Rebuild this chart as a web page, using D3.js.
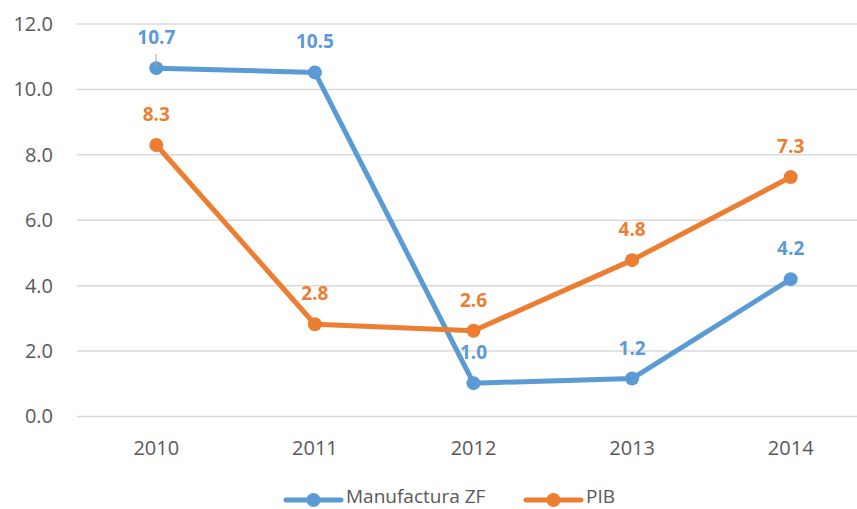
<!DOCTYPE html>
<html>
<head>
<meta charset="utf-8">
<script src="https://cdn.jsdelivr.net/npm/d3@7"></script>
<style>
  body { margin: 0; background: #fff; }
  text { font-family: "Open Sans", "Noto Sans", sans-serif; }
</style>
</head>
<body>
<div class="canvas"></div>
<script>
const years = ["2010", "2011", "2012", "2013", "2014"]
const manufactura = [10.65, 10.52, 1.02, 1.16, 4.2]
const pib = [8.3, 2.82, 2.62, 4.78, 7.32]
const yTicks = [0, 2, 4, 6, 8, 10, 12]

const width = 857
const height = 509

const svg = d3.select(".canvas")
    .append("svg")
    .attr("width", width)
    .attr("height", height)

const x = d3.scaleBand()
    .domain(years)
    .range([77, 870])

const y = d3.scaleLinear()
    .domain([0, 12])
    .range([416.5, 24])

// gridlines
svg.append("g")
    .selectAll("line")
    .data(yTicks)
    .enter()
    .append("line")
    .attr("x1", 77)
    .attr("x2", width)
    .attr("y1", d => y(d))
    .attr("y2", d => y(d))
    .attr("stroke", "#d9d9d9")
    .attr("stroke-width", 1.5)

const yAxis = svg.append("g")
    .attr("transform", "translate(77,0)")
    .call(d3.axisLeft(y).tickValues(yTicks).tickFormat(d3.format(".1f")).tickSize(0).tickPadding(24))
yAxis.select(".domain").remove()
yAxis.selectAll("text")
    .attr("font-size", 20)
    .attr("fill", "#595959")
    .style("font-family", "'Open Sans', sans-serif")

const xAxis = svg.append("g")
    .attr("transform", "translate(0,416.5)")
    .call(d3.axisBottom(x).tickSize(0).tickPadding(24))
xAxis.select(".domain").remove()
xAxis.selectAll("text")
    .attr("font-size", 20)
    .attr("fill", "#595959")
    .style("font-family", "'Open Sans', sans-serif")

const series = [
    { name: "Manufactura ZF", values: manufactura, color: "#5b9bd5" },
    { name: "PIB", values: pib, color: "#ed7d31" }
]

const line = d3.line()
    .x((d, i) => x(years[i]) + x.bandwidth() / 2)
    .y(d => y(d))

series.forEach(s => {
    svg.append("path")
        .datum(s.values)
        .attr("fill", "none")
        .attr("stroke", s.color)
        .attr("stroke-width", 5)
        .attr("stroke-linejoin", "round")
        .attr("d", line)

    svg.append("g")
        .selectAll("circle")
        .data(s.values)
        .enter()
        .append("circle")
        .attr("cx", (d, i) => x(years[i]) + x.bandwidth() / 2)
        .attr("cy", d => y(d))
        .attr("r", 7)
        .attr("fill", s.color)

    svg.append("g")
        .selectAll("text")
        .data(s.values)
        .enter()
        .append("text")
        .attr("x", (d, i) => x(years[i]) + x.bandwidth() / 2)
        .attr("y", d => y(d) - 24)
        .attr("text-anchor", "middle")
        .attr("font-size", 19)
        .attr("font-weight", "bold")
        .attr("fill", s.color)
        .text(d => d3.format(".1f")(d))
})

// leader line for the first label
svg.append("line")
    .attr("x1", x(years[0]) + x.bandwidth() / 2 - 0.5)
    .attr("x2", x(years[0]) + x.bandwidth() / 2)
    .attr("y1", y(manufactura[0]) - 14)
    .attr("y2", y(manufactura[0]))
    .attr("stroke", "#a6a6a6")
    .attr("stroke-width", 1)

// legend
const legendX = [286, 526]
const legend = svg.append("g")
    .selectAll("g")
    .data(series)
    .enter()
    .append("g")
    .attr("transform", (d, i) => `translate(${legendX[i]},500)`)

legend.append("line")
    .attr("x1", 0)
    .attr("x2", 55)
    .attr("stroke", d => d.color)
    .attr("stroke-width", 5)
    .attr("stroke-linecap", "round")

legend.append("circle")
    .attr("cx", 27.5)
    .attr("r", 7)
    .attr("fill", d => d.color)

legend.append("text")
    .attr("x", 60)
    .attr("y", 3)
    .attr("font-size", 19)
    .attr("fill", "#595959")
    .text(d => d.name)
</script>
</body>
</html>
